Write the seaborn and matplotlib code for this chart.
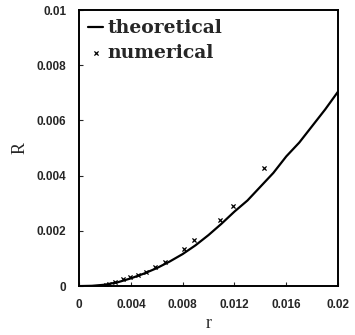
import numpy as np
import pandas as pd
import matplotlib
matplotlib.use("Agg")
import matplotlib.pyplot as plt
import seaborn as sns

sns.set_style("ticks")
plt.rcParams["font.family"] = ["Liberation Serif", "DejaVu Serif"]

# -----------------------------
# Data
# -----------------------------
r_theory = [0.0, 0.001, 0.002, 0.003, 0.004, 0.005, 0.006, 0.007, 0.008, 0.009,
            0.010, 0.011, 0.012, 0.013, 0.014, 0.015, 0.016, 0.017, 0.018, 0.019, 0.020]
R_theory = [0.0, 0.00001, 0.00005, 0.00014, 0.00028, 0.00045, 0.00065, 0.00089, 0.00116, 0.00148,
            0.00185, 0.00226, 0.0027, 0.0031, 0.0036, 0.0041, 0.0047, 0.0052, 0.0058, 0.0064, 0.00705]

r_num = [0.0021, 0.0023, 0.0028, 0.0034, 0.0039, 0.00455, 0.0052, 0.0059, 0.0066,
         0.0081, 0.0089, 0.0109, 0.0119, 0.01425]
R_num = [0.00004, 0.00007, 0.00014, 0.00024, 0.00033, 0.00041, 0.00052, 0.0007, 0.00087,
         0.00134, 0.00166, 0.00239, 0.00291, 0.00426]

x_ticks = [0, 0.004, 0.008, 0.012, 0.016, 0.02]
x_labels = ["0", "0.004", "0.008", "0.012", "0.016", "0.02"]
y_ticks = [0, 0.002, 0.004, 0.006, 0.008, 0.01]
y_labels = ["0", "0.002", "0.004", "0.006", "0.008", "0.01"]

df_line = pd.DataFrame({"r": r_theory, "R": R_theory})
df_pts = pd.DataFrame({"r": r_num, "R": R_num})

# -----------------------------
# Plot
# -----------------------------
fig = plt.figure(figsize=(3.55, 3.35), dpi=100)
ax = fig.add_axes([0.2225, 0.146, 0.73, 0.824])

sns.lineplot(data=df_line, x="r", y="R", ax=ax, color="black", linewidth=1.6,
             label="theoretical")
sns.scatterplot(data=df_pts, x="r", y="R", ax=ax, marker="x", color="black", s=9,
                linewidth=0.9, label="numerical")

ax.set_xlim(0, 0.02)
ax.set_ylim(0, 0.01)
tick_font = dict(family=["Liberation Sans Narrow", "Liberation Sans", "DejaVu Sans"],
                 fontweight="bold", fontsize=8.5)
ax.set_xticks(x_ticks)
ax.set_xticklabels(x_labels, **tick_font)
ax.set_yticks(y_ticks)
ax.set_yticklabels(y_labels, **tick_font)
ax.tick_params(direction="in", length=3, width=0.8, pad=9)
ax.set_xlabel("r", fontsize=13, labelpad=3)
ax.set_ylabel("R", fontsize=13, labelpad=6)

for s in ax.spines.values():
    s.set_visible(True)
    s.set_linewidth(1.4)
    s.set_color("black")

leg = ax.legend(loc="upper left", frameon=False, handlelength=0.8,
                handletextpad=0.2, borderaxespad=0.3, labelspacing=0.35,
                borderpad=0.2, prop=dict(family="DejaVu Serif", size=13.5,
                                         weight="bold"))

fig.savefig("out.png", dpi=100)
